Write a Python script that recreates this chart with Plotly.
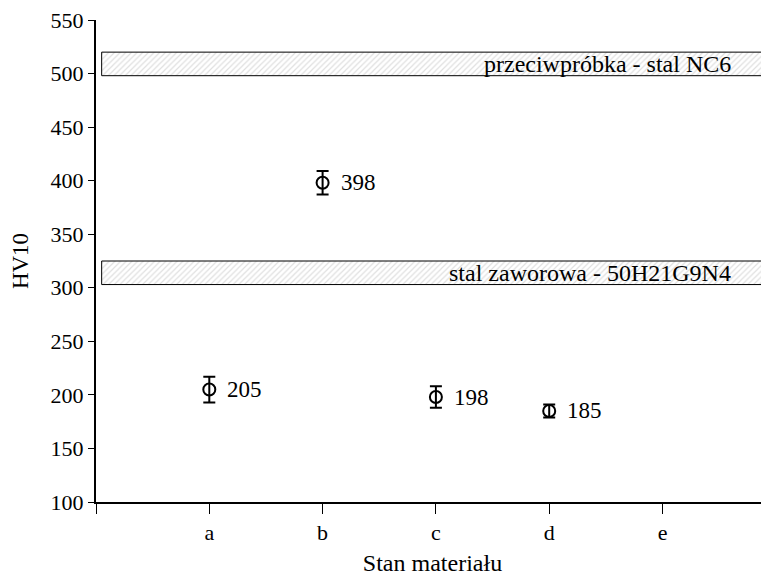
import plotly.graph_objects as go

categories = ["a", "b", "c", "d", "e"]
x_pos = [1, 2, 3, 4]
hv_values = [205, 398, 198, 185]
hv_errors = [12, 11, 10, 6]
value_labels = ["205", "398", "198", "185"]

band_names = ["przeciwpróbka - stal NC6", "stal zaworowa - 50H21G9N4"]
band_low = [498, 303]
band_high = [520, 325]

FONT = "Liberation Serif"

fig = go.Figure()

x0, x1 = 0.05, 6.2
for name, lo, hi in zip(band_names, band_low, band_high):
    fig.add_trace(go.Scatter(
        x=[x0, x1, x1, x0, x0], y=[lo, lo, hi, hi, lo],
        mode="lines", fill="toself",
        fillcolor="white",
        fillpattern=dict(shape="/", fgcolor="#c0c0c0", bgcolor="white", size=4, solidity=0.3),
        line=dict(color="black", width=1),
        hoverinfo="skip", showlegend=False,
    ))
    fig.add_annotation(x=5.62, y=(lo + hi) / 2, text=name, showarrow=False,
                       xanchor="right", yanchor="middle",
                       font=dict(family=FONT, size=24, color="black"))

fig.add_trace(go.Scatter(
    x=x_pos, y=hv_values, mode="markers",
    marker=dict(symbol="circle-open", size=12, color="black", line=dict(width=2)),
    error_y=dict(type="data", array=hv_errors, color="black", thickness=2, width=6),
    showlegend=False,
))

for x, y, t in zip(x_pos, hv_values, value_labels):
    fig.add_annotation(x=x, y=y, text=t, showarrow=False, xanchor="left",
                       yanchor="middle", xshift=16,
                       font=dict(family=FONT, size=23, color="black"))

# page body has an 8px margin, so the figure is sized to fit the 769x576 window
fig.update_layout(
    width=761, height=568,
    margin=dict(l=88, r=0, t=12, b=74),
    plot_bgcolor="white", paper_bgcolor="white",
    font=dict(family=FONT, size=22, color="black"),
)
fig.update_xaxes(
    range=[0, 5.94], tickmode="array", tickvals=[0, 1, 2, 3, 4, 5],
    ticktext=[""] + categories, ticks="outside", ticklen=10, tickwidth=1,
    tickcolor="black", showline=True, linecolor="black", linewidth=2,
    showgrid=False, zeroline=False, tickfont=dict(family=FONT, size=22),
    title=dict(text="Stan materiału", font=dict(family=FONT, size=24), standoff=12),
)
fig.update_yaxes(
    range=[100, 550], tickmode="array", tickvals=list(range(100, 551, 50)),
    ticks="outside", ticklen=6, tickwidth=1, tickcolor="black",
    showline=True, linecolor="black", linewidth=2, ticklabeloverflow="allow",
    showgrid=False, zeroline=False, tickfont=dict(family=FONT, size=22),
    title=dict(text="HV10", font=dict(family=FONT, size=23), standoff=16),
)

fig.write_html("out.html")
